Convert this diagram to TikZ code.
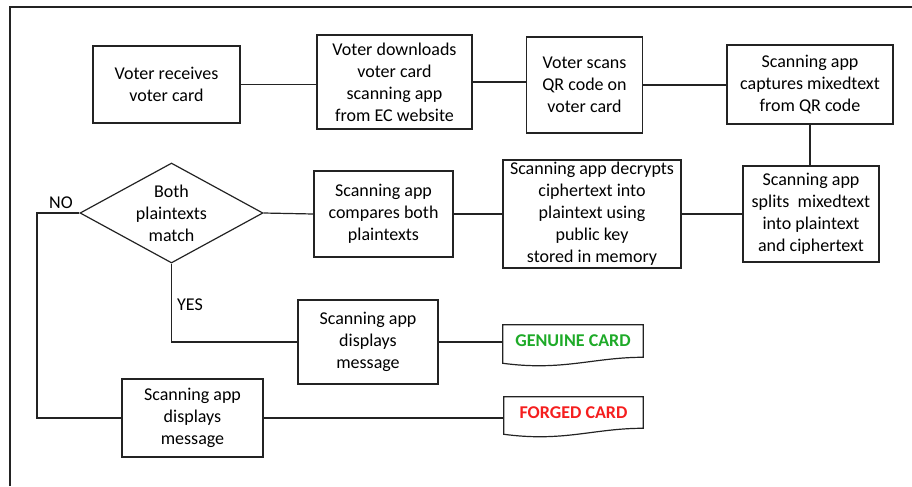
\documentclass[tikz,border=0pt]{standalone}
\usepackage{fontspec}
\setmainfont{Carlito}
\usetikzlibrary{shapes.geometric,calc}
\definecolor{gcol}{RGB}{30,170,40}
\definecolor{rcol}{RGB}{245,30,30}
\definecolor{lcol}{RGB}{35,35,35}
\begin{document}
\begin{tikzpicture}[x=0.75pt,y=-0.75pt,
 txt/.style={font=\fontsize{13.5}{16.5}\selectfont},
 box/.style={draw=lcol, line width=0.9pt, inner sep=0pt, align=center, txt},
 sz/.style 2 args={minimum width=#1*0.75pt, minimum height=#2*0.75pt},
 conn/.style={draw=lcol, line width=0.9pt},
 lbl/.style={txt, inner sep=0pt},
 doc/.style={inner sep=0pt, font=\bfseries\fontsize{13.5}{16.5}\selectfont},
 docline/.style={draw=lcol, line width=0.9pt}]
\useasboundingbox (0,0) rectangle (912,486);
\draw[line width=1.1pt, lcol] (10,486) -- (10,7) -- (912,7);

\node[box, sz={147}{77}] (b1) at (166.5,84.5) {Voter receives\\voter card};
\node[box, sz={155}{94}] (b2) at (394.5,82) {Voter downloads\\voter card\\scanning app\\from EC website};
\node[box, sz={116}{96}] (b3) at (584.5,85) {Voter scans\\QR code on\\voter card};
\node[box, sz={166}{79}] (b4) at (810,84.5) {Scanning app\\captures mixedtext\\from QR code};
\node[box, sz={136}{96}] (b5) at (811,214) {Scanning app\\splits\ \ mixedtext\\into plaintext\\and ciphertext};
\node[box, sz={178}{108}] (b6) at (592,214) {Scanning app decrypts\\ciphertext into\\plaintext using\\public key\\stored in memory};
\node[box, sz={139}{86}] (b7) at (383.5,214) {Scanning app\\compares both\\plaintexts};
\node[diamond, draw=lcol, line width=0.9pt, inner sep=0pt, sz={183}{100}] (d) at (171.5,213) {};
\node[lbl, align=center] (dt) at (d.center) {Both\\plaintexts\\match};
\node[box, sz={140}{84}] (b8) at (368,342) {Scanning app\\displays\\message};
\node[box, sz={141}{78}] (b9) at (192.5,418) {Scanning app\\displays\\message};

\node[doc, sz={140}{32}, text=gcol] (g) at (573,341) {GENUINE CARD};
\draw[docline] (g.north west) -- (g.north east) -- (g.south east)
  .. controls ($(g.south east)+(-50,0)$) and ($(g.south west)+(60,14)$) .. ($(g.south west)+(0,6)$) -- cycle;
\node[doc, sz={139}{31}, text=rcol] (f) at (573.5,412.5) {FORGED CARD};
\draw[docline] (f.north west) -- (f.north east) -- (f.south east)
  .. controls ($(f.south east)+(-50,0)$) and ($(f.south west)+(60,14)$) .. ($(f.south west)+(0,6)$) -- cycle;

\node[lbl] (no) at (61,203) {NO};
\node[lbl] (yes) at (190,305) {YES};

\draw[conn] (b1.east) -- (b1.east -| b2.west);
\draw[conn] (b2.east) -- (b2.east -| b3.west);
\draw[conn] (b3.east) -- (b3.east -| b4.west);
\draw[conn] (b4.south) -- (b4.south |- b5.north);
\draw[conn] (b5.west) -- (b5.west -| b6.east);
\draw[conn] (b6.west) -- (b6.west -| b7.east);
\draw[conn] (b7.west) -- (d.east);
\draw[conn] (d.south) |- (b8.west);
\draw[conn] (b8.east) -- (b8.east -| g.west);
\coordinate (nc) at (37,213);
\draw[conn] (d.west) -- (d.west -| nc) |- (b9.west);
\draw[conn] (b9.east) -- (b9.east -| f.west);
\end{tikzpicture}
\end{document}
